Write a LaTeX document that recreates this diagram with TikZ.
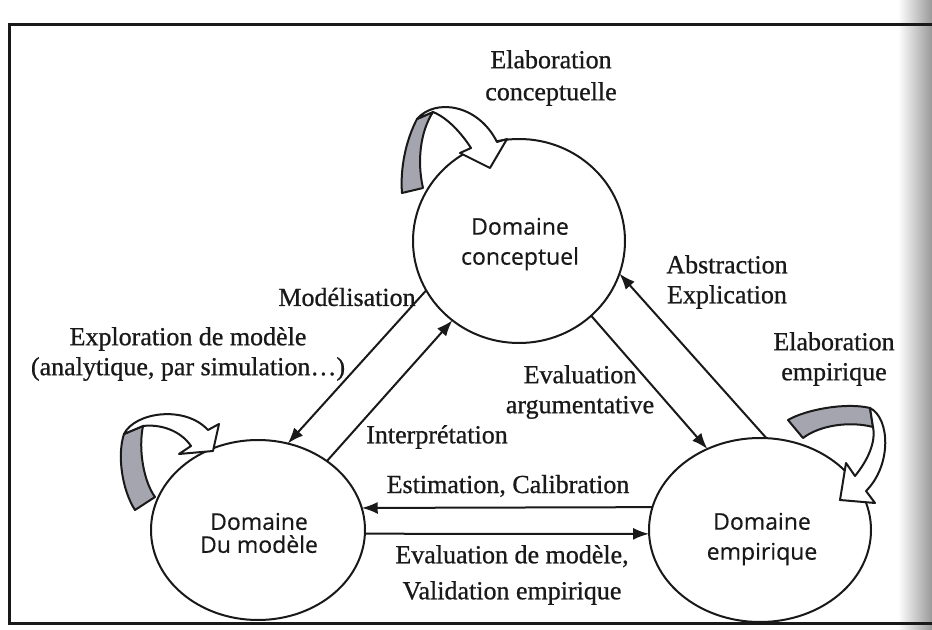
\documentclass[tikz,border=0pt]{standalone}
\usepackage{fontspec}
\setmainfont{Liberation Serif}
\newfontfamily\labfont{Liberation Serif}[FakeBold=0.8]
\newfontfamily\domfont{Open Sans}[FakeBold=0.4]
\usetikzlibrary{shapes.geometric,arrows.meta}
\definecolor{ribbongray}{RGB}{165,165,176}
\definecolor{ink}{RGB}{25,25,25}
\begin{document}
\begin{tikzpicture}[x=0.5pt,y=-0.5pt,
  dom/.style={ellipse, draw=ink, line width=1pt, inner sep=0pt, outer sep=0pt},
  domtext/.style={font=\domfont\fontsize{11.5}{15}\selectfont, text=ink, align=center, inner sep=0pt},
  lab/.style={font=\labfont\fontsize{13}{15}\selectfont, text=ink, align=center, inner sep=0pt},
  conn/.style={draw=ink, line width=1pt, -{Latex[length=8pt,width=6pt]}},
  ribbon/.style={draw=ink, line width=1pt, line join=round, fill=white},
  ribbonback/.style={draw=ink, line width=1pt, line join=round, fill=ribbongray},
]
\clip (0,0) rectangle (932,630);
\fill[white] (0,0) rectangle (932,630);
\shade[left color=white, right color=black!40] (898,0) rectangle (932,630);
% frame
\draw[ink, line width=1.5pt] (960,25) -- (9,25) -- (9,623) -- (960,623);

% domains
\node[dom, minimum width=106pt, minimum height=102pt] (concept) at (519,241) {};
\node[dom, minimum width=107pt, minimum height=90pt] (model) at (258,530) {};
\node[dom, minimum width=111pt, minimum height=92pt] (empir) at (760,530) {};

\node[domtext] (conceptT) at (520,244) {Domaine\\conceptuel};
\node[domtext, font=\domfont\fontsize{11.5}{11.5}\selectfont] (modelT) at (259,533) {Domaine\\Du modèle};
\node[domtext] (empirT) at (762,539) {Domaine\\empirique};

% self loops
\draw[ribbonback] (417,119) .. controls (406,140) and (400,168) .. (402,193) -- (423,188) .. controls (417,162) and (420,132) .. (433,112) -- cycle;
\draw[ribbon] (417,119) .. controls (435,98) and (478,104) .. (497,142) -- (507,139) -- (490,168) -- (460,153) -- (471,148) .. controls (462,134) and (448,118) .. (433,112) -- cycle;

\draw[ribbonback] (124,434) .. controls (117,455) and (122,490) .. (135,510) -- (155,497) .. controls (144,482) and (138,450) .. (143,426) -- cycle;
\draw[ribbon] (124,434) .. controls (135,412) and (185,405) .. (208,430) -- (219,424) -- (213,451) -- (179,454) -- (191,446) .. controls (180,430) and (160,424) .. (143,426) -- cycle;

\draw[ribbonback] (788,420) .. controls (805,410) and (845,402) .. (870,408) -- (873,427) .. controls (850,421) and (820,425) .. (803,438) -- cycle;
\draw[ribbon] (870,408) .. controls (890,418) and (892,465) .. (866,491) -- (875,503) -- (840,500) -- (846,463) -- (855,476) .. controls (868,460) and (876,442) .. (873,427) -- cycle;

% connectors
\draw[conn] (concept.208) -- (model.71);
\draw[conn] (model.45) -- (concept.230);
\draw[conn] (empir.86) -- (concept.342);
\draw[conn] (concept.314) -- (empir.123);
\draw[conn] (empir.168) -- (model.12);
\draw[conn] (model.358) -- (empir.182);

% labels
\node[lab, font=\labfont\fontsize{13}{16}\selectfont] (elabc) at (551,78) {Elaboration\\conceptuelle};
\node[lab] (modl) at (347,297) {Modélisation};
\node[lab] (explo) at (188,354) {Exploration de modèle\\(analytique, par simulation…)};
\node[lab] (interp) at (437,437) {Interprétation};
\node[lab] (estim) at (508,486) {Estimation, Calibration};
\node[lab, font=\labfont\fontsize{13}{18}\selectfont] (evalm) at (512,575) {Evaluation de modèle,\\Validation empirique};
\node[lab] (evala) at (580,392) {Evaluation\\argumentative};
\node[lab] (abst) at (727,282) {Abstraction\\Explication};
\node[lab] (elabe) at (834,359) {Elaboration\\empirique};
\end{tikzpicture}
\end{document}
